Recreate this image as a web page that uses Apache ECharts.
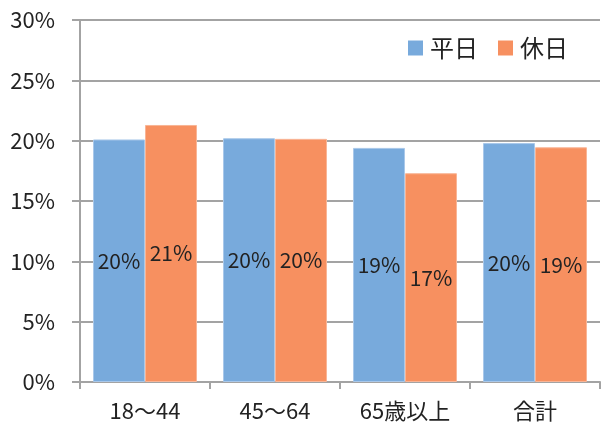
<!DOCTYPE html>
<html><head><meta charset="utf-8">
<script src="https://cdn.jsdelivr.net/npm/echarts@6/dist/echarts.min.js"></script>
<style>html,body{margin:0;padding:0;background:#fff}#c{width:601px;height:428px}</style>
</head><body><div id="c"></div>
<script>
const categories = ['18～44', '45～64', '65歳以上', '合計'];
const weekday = [20.1, 20.2, 19.4, 19.8];
const holiday = [21.3, 20.15, 17.3, 19.45];
const seriesNames = ['平日', '休日'];
const yTicks = [0, 5, 10, 15, 20, 25, 30];

const font = '"Noto Sans CJK JP", "Noto Sans", sans-serif';
const chart = echarts.init(document.getElementById('c'));
const labelCfg = {
  show: true, position: 'inside', color: '#222', fontSize: 21, fontFamily: font,
  formatter: p => Math.round(p.value) + '%'
};
chart.setOption({
  animation: false,
  textStyle: { fontFamily: font },
  legend: {
    right: 28, top: 31, icon: 'rect', itemWidth: 15, itemHeight: 15, itemGap: 20,
    itemStyle: { borderWidth: 0 },
    textStyle: { fontSize: 24, color: '#222', fontFamily: font, padding: [0, 0, 0, 2] },
    data: seriesNames
  },
  grid: { left: 80, right: 1, top: 20, bottom: 46, containLabel: false },
  xAxis: {
    type: 'category', data: categories,
    axisLine: { lineStyle: { color: '#a3a3a3', width: 2 } },
    axisTick: { show: true, length: 7, lineStyle: { color: '#a3a3a3', width: 2 } },
    axisLabel: { color: '#222', fontSize: 22, margin: 18, fontFamily: font }
  },
  yAxis: {
    type: 'value', min: yTicks[0], max: yTicks[yTicks.length - 1], interval: 5,
    axisLine: { show: true, lineStyle: { color: '#a3a3a3', width: 2 } },
    axisTick: { show: true, length: 8, lineStyle: { color: '#a3a3a3', width: 2 } },
    splitLine: { lineStyle: { color: '#a3a3a3', width: 2 } },
    axisLabel: { color: '#222', fontSize: 22, margin: 25, fontFamily: font, formatter: v => v + '%' }
  },
  series: [
    { name: seriesNames[0], type: 'bar', data: weekday, barGap: '0%', barCategoryGap: '20%',
      itemStyle: { color: '#78aadc', borderColor: '#a9c8ea', borderWidth: 1 }, label: labelCfg },
    { name: seriesNames[1], type: 'bar', data: holiday,
      itemStyle: { color: '#f79060', borderColor: '#f9b596', borderWidth: 1 }, label: labelCfg }
  ]
});
</script></body></html>
